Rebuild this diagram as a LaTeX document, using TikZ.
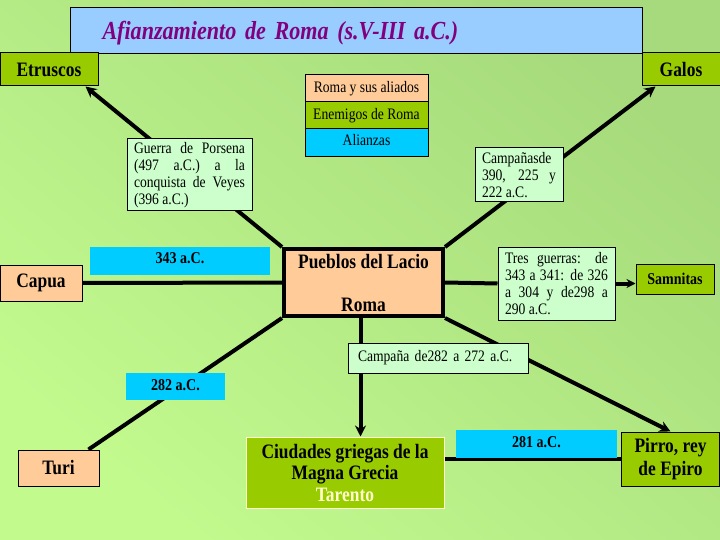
\documentclass[tikz,border=0pt]{standalone}
\usepackage{fontspec}
\setmainfont[FakeStretch=0.85]{Liberation Serif}
\newfontfamily\titlefont[FakeStretch=0.85]{Liberation Serif}
\usetikzlibrary{arrows.meta,positioning}

\definecolor{bgtop}{RGB}{166,218,124}
\definecolor{bgbot}{RGB}{194,250,142}
\definecolor{titlebg}{RGB}{153,204,255}
\definecolor{titlefg}{RGB}{128,0,128}
\definecolor{peach}{RGB}{255,204,153}
\definecolor{olive}{RGB}{153,204,0}
\definecolor{mint}{RGB}{204,255,204}
\definecolor{sky}{RGB}{0,204,255}
\definecolor{paleyellow}{RGB}{255,255,204}

\pgfdeclarelayer{bg}
\pgfdeclarelayer{links}
\pgfsetlayers{bg,links,main}

\tikzset{
    box/.style={draw=black, line width=1pt, inner sep=0pt, align=center},
    bigfont/.style={font=\fontsize{20.5}{23}\selectfont\bfseries},
    ally/.style={box, fill=peach, bigfont},
    enemy/.style={box, fill=olive, bigfont},
    legend/.style={box, minimum width=123pt, minimum height=27pt, font=\fontsize{16}{17}\selectfont},
    note/.style={box, fill=mint, align=justify, inner xsep=7pt, font=\fontsize{16}{17}\selectfont},
    datebox/.style={fill=sky, inner sep=0pt, font=\fontsize{16.5}{18}\selectfont\bfseries},
    link/.style={line width=4pt},
    linkarrow/.style={link, -{Stealth[length=11pt,width=11pt]}}
}

\begin{document}
\begin{tikzpicture}[x=1pt,y=-1pt]
    \useasboundingbox (0,0) rectangle (720,540);
    \begin{pgfonlayer}{bg}
        \shade[top color=bgtop, bottom color=bgbot, shading angle=-40] (0,0) rectangle (720,540);
    \end{pgfonlayer}

    % Title
    \node[box, anchor=north west, fill=titlebg, text=titlefg, align=left,
          minimum width=572pt, text width=508pt, inner xsep=32pt, inner ysep=0pt,
          text height=32pt, text depth=14pt,
          font=\titlefont\fontsize{26}{30}\selectfont\bfseries\itshape] (title) at (70,7)
          {Afianzamiento de Roma (s.V-III a.C.)};

    % Enemies at the top
    \node[enemy, minimum width=98pt, minimum height=33pt] (etruscos) at (49,69.5) {Etruscos};
    \node[enemy, minimum width=78pt, minimum height=33pt] (galos) at (681,69.5) {Galos};

    % Legend
    \node[legend, fill=peach] (aliados) at (366.5,88.5) {Roma y sus aliados};
    \node[legend, fill=olive, below=-1pt of aliados] (enemigos) {Enemigos de Roma};
    \node[legend, fill=sky, below=-1pt of enemigos, text height=17pt, text depth=11pt] (alianzas) {Alianzas};

    % Campaigns
    \node[note, text width=111pt, minimum height=72pt] (porsena) at (189.5,175)
        {Guerra de Porsena\linebreak (497 a.C.) a la\linebreak conquista de Veyes\linebreak (396 a.C.)};
    \node[note, text width=74pt, minimum height=54pt] (galias) at (519,175)
        {Campañasde\linebreak 390, 225 y\linebreak 222 a.C.};
    \node[note, text width=103pt, minimum height=73pt] (tres) at (556.5,283.5)
        {Tres guerras: de\linebreak 343 a 341: de 326\linebreak a 304 y de298 a\linebreak 290 a.C.};
    \node[note, align=left, text width=160pt, inner xsep=10pt, minimum height=30pt] (tarentina) at (438,358)
        {Campaña de282 a 272 a.C.};

    % Rome and the Latin peoples
    \node[box, line width=4pt, fill=peach, minimum width=159pt, minimum height=67pt,
          font=\fontsize{20.5}{43}\selectfont\bfseries] (roma) at (363.5,282.5)
          {Pueblos del Lacio\\Roma};

    % Dates of the alliances
    \node[datebox, minimum width=180pt, text height=16pt, text depth=12pt] (d343) at (180,261) {343 a.C.};
    \node[datebox, minimum width=99pt, text height=17pt, text depth=10pt] (d282) at (175.5,386.5) {282 a.C.};
    \node[datebox, minimum width=161pt, text height=17pt, text depth=11pt] (d281) at (536.5,444) {281 a.C.};

    % Allies and enemies around
    \node[ally, minimum width=82pt, minimum height=36pt] (capua) at (41,283) {Capua};
    \node[enemy, minimum width=78pt, minimum height=30pt, font=\fontsize{16.5}{18}\selectfont\bfseries] (samnitas) at (675,279) {Samnitas};
    \node[ally, minimum width=81pt, minimum height=36pt] (turi) at (58.5,468) {Turi};
    \node[enemy, draw=paleyellow, minimum width=198pt, minimum height=71pt,
          font=\fontsize{20.5}{21.5}\selectfont\bfseries] (ciudades) at (345,472.5)
          {Ciudades griegas de la\\Magna Grecia\\\textcolor{paleyellow}{Tarento}};
    \node[enemy, minimum width=98pt, minimum height=54pt] (pirro) at (670.5,459) {Pirro, rey\\de Epiro};

    % Connectors
    \begin{pgfonlayer}{links}
        \draw[linkarrow] (roma.north west) -- ([xshift=-13pt]etruscos.south east);
        \draw[linkarrow] (roma.north east) -- ([xshift=14pt]galos.south west);
        \draw[link] (roma.west) -- (capua.east);
        \draw[link] (roma.east) -- (tres.west);
        \draw[link, -{Stealth[length=9pt,width=9pt]}] (tres.east) -- (tres.east -| samnitas.west);
        \draw[link] (roma.south west) -- ([xshift=-11pt]turi.north east);
        \draw[linkarrow] ([xshift=-3pt]roma.south) -- ([xshift=-3pt]roma.south |- ciudades.north);
        \draw[linkarrow] (roma.south east) -- (pirro.north);
        \draw[link] (ciudades.east |- pirro.west) -- (pirro.west);
    \end{pgfonlayer}
\end{tikzpicture}
\end{document}
